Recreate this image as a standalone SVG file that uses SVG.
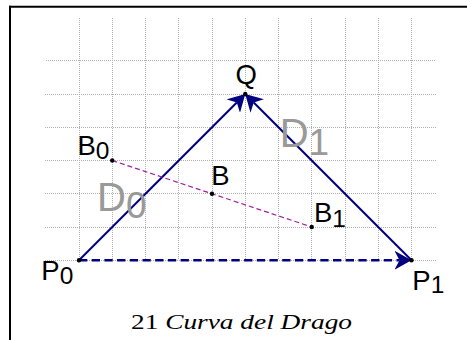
<svg xmlns="http://www.w3.org/2000/svg" width="467" height="340" viewBox="0 0 467 340">
<style>
.grid line{stroke:#b0b0b0;stroke-width:1;stroke-dasharray:1 1;shape-rendering:crispEdges}
.frame{stroke:#000;stroke-width:2;fill:none}
.vec{stroke:#000080;stroke-width:2;fill:none}
.dvec{stroke:#000080;stroke-width:2.6;fill:none;stroke-dasharray:8.3 4.4}
.seg{stroke:#a020a0;stroke-width:1.2;fill:none;stroke-dasharray:5 3}
.pt{fill:#000}
.lbl{font-family:"Liberation Sans",Arial,sans-serif;font-size:27.5px;fill:#000}
.lbl .sub{font-size:24.5px}
.big{font-family:"Liberation Sans",Arial,sans-serif;font-size:40px;fill:#999}
.big .sub{font-size:37px}
.cap{font-family:"Liberation Serif","Times New Roman",serif;font-size:20.5px;fill:#000}
</style>
<defs>
<marker id="ah" viewBox="0 0 17 19" refX="5" refY="9.5" markerWidth="17" markerHeight="19" markerUnits="userSpaceOnUse" orient="auto">
<path d="M0,0 L17,9.5 L0,19 L5,9.5 Z" fill="#000080"/>
</marker>
</defs>
<g id="frame">
<line class="frame" x1="9" y1="6.7" x2="467" y2="6.7"/>
<line class="frame" x1="10" y1="5.7" x2="10" y2="340"/>
</g>
<g id="grid" class="grid">
<line x1="79" y1="18" x2="79" y2="260.25"/>
<line x1="112.25" y1="18" x2="112.25" y2="260.25"/>
<line x1="145.5" y1="18" x2="145.5" y2="260.25"/>
<line x1="178.75" y1="18" x2="178.75" y2="260.25"/>
<line x1="212" y1="18" x2="212" y2="260.25"/>
<line x1="245.25" y1="18" x2="245.25" y2="260.25"/>
<line x1="278.5" y1="18" x2="278.5" y2="260.25"/>
<line x1="311.75" y1="18" x2="311.75" y2="260.25"/>
<line x1="345" y1="18" x2="345" y2="260.25"/>
<line x1="378.25" y1="18" x2="378.25" y2="260.25"/>
<line x1="411.5" y1="18" x2="411.5" y2="260.25"/>
<line x1="46" y1="60.75" x2="436" y2="60.75"/>
<line x1="45" y1="94" x2="436" y2="94"/>
<line x1="45" y1="127.25" x2="436" y2="127.25"/>
<line x1="45" y1="160.5" x2="436" y2="160.5"/>
<line x1="45" y1="193.75" x2="436" y2="193.75"/>
<line x1="45" y1="227" x2="436" y2="227"/>
<line x1="45" y1="260.25" x2="436" y2="260.25"/>
</g>
<g id="connectors">
<line id="D0" class="vec" x1="79" y1="260.25" x2="236.8" y2="102.5" marker-end="url(#ah)"/>
<line id="D1" class="vec" x1="411.5" y1="260.25" x2="253.7" y2="102.5" marker-end="url(#ah)"/>
<line id="P0P1" class="dvec" x1="79" y1="260.25" x2="399.5" y2="260.25" marker-end="url(#ah)"/>
<line id="B0B1" class="seg" x1="112.25" y1="160.5" x2="311.75" y2="227"/>
</g>
<g id="node-P0"><circle class="pt" cx="79" cy="260.25" r="2.2"/><text class="lbl" x="41.3" y="279.5">P<tspan class="sub" dy="4.8">0</tspan></text></g>
<g id="node-P1"><circle class="pt" cx="411.5" cy="260.25" r="2.2"/><text class="lbl" x="412.3" y="290">P<tspan class="sub" dy="3.3">1</tspan></text></g>
<g id="node-Q"><circle class="pt" cx="245.25" cy="94" r="2.2"/><text class="lbl" x="235.5" y="84">Q</text></g>
<g id="node-B0"><circle class="pt" cx="112.25" cy="160.5" r="2.2"/><text class="lbl" x="77.5" y="155">B<tspan class="sub" dy="4">0</tspan></text></g>
<g id="node-B"><circle class="pt" cx="212" cy="193.75" r="2.2"/><text class="lbl" x="211.3" y="185">B</text></g>
<g id="node-B1"><circle class="pt" cx="311.75" cy="227" r="2.2"/><text class="lbl" x="314" y="221.7">B<tspan class="sub" dy="5">1</tspan></text></g>
<g id="label-D0"><text class="big" x="97" y="210.5">D<tspan class="sub" dy="7">0</tspan></text></g>
<g id="label-D1"><text class="big" x="279.7" y="146.7">D<tspan class="sub" dy="8.3">1</tspan></text></g>
<g id="caption"><text class="cap" x="131" y="328.5" textLength="221" lengthAdjust="spacingAndGlyphs">21 <tspan font-style="italic">Curva del Drago</tspan></text></g>
</svg>
